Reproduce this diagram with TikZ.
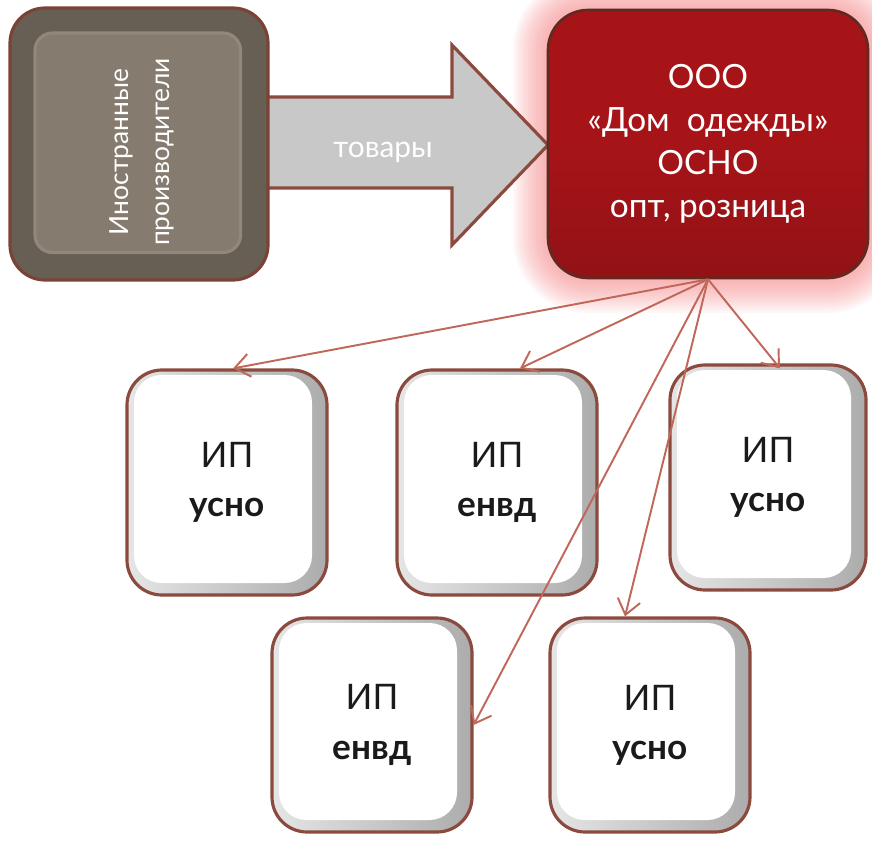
\documentclass[tikz,border=0pt]{standalone}
\usepackage{fontspec}
\setmainfont{Lato}
\usetikzlibrary{arrows.meta}
\definecolor{prodfill}{HTML}{857B6F}
\definecolor{prodedge}{HTML}{675E54}
\definecolor{prodborder}{HTML}{7A4336}
\definecolor{goodsfill}{HTML}{C8C8C8}
\definecolor{goodsborder}{HTML}{8C4A3E}
\definecolor{firmfill}{HTML}{A61418}
\definecolor{firmborder}{HTML}{5E2A22}
\definecolor{firmglow}{HTML}{F47C7C}
\definecolor{ipborder}{HTML}{8A4A3E}
\definecolor{iptext}{HTML}{1A1A1A}
\definecolor{linkcolor}{HTML}{C0675A}

\tikzset{
  ipbox/.style={draw=ipborder, line width=1.8pt, rounded corners=0.7cm,
    left color=gray!20, right color=gray!65, rectangle,
    minimum width=4cm, minimum height=4.5cm, align=center, text=iptext,
    font=\fontsize{20pt}{28pt}\selectfont,
    path picture={\fill[white, rounded corners=0.55cm]
      ([shift={(0.14,-0.1)}]path picture bounding box.north west) rectangle
      ([shift={(-0.3,0.24)}]path picture bounding box.south east);}},
  link/.style={draw=linkcolor, line width=1.1pt,
    -{Straight Barb[length=3mm, width=4.6mm]}},
}

\begin{document}
\begin{tikzpicture}%
\useasboundingbox (0, 0) rectangle (17.44, -16.8);%
% glow round the firm
\foreach \g in {1,...,14} {%
  \fill[firmglow, opacity=0.06, rounded corners=0.8cm+\g*0.5mm] (10.96-\g*0.05, -0.2+\g*0.05) rectangle (17.36+\g*0.05, -5.56-\g*0.05);%
}%
% goods arrow
\draw[fill=goodsfill, draw=goodsborder, line width=1.8pt] (5.24, -1.94) -- (9.04, -1.94) -- (9.04, -0.9) -- (10.96, -2.9) -- (9.04, -4.9) -- (9.04, -3.76) -- (5.24, -3.76) -- cycle;%
\node[text=white, font=\fontsize{17pt}{17pt}\selectfont] (goods) at (7.66, -3.04) {товары};%
% producers
\node[draw=prodborder, line width=1.8pt, fill=prodedge, rectangle, rounded corners=0.7cm, minimum width=5.16cm, minimum height=5.44cm,
  path picture={\fill[prodfill, draw=prodfill!90!white, rounded corners=0.35cm]
    ([shift={(0.5,-0.5)}]path picture bounding box.north west) rectangle
    ([shift={(-0.55,0.55)}]path picture bounding box.south east);}] (prod) at (2.78, -2.88) {};%
\node[text=white, rotate=90, align=center, font=\fontsize{15pt}{23pt}\selectfont] (prodtext) at (2.84, -3.04) {Иностранные\\производители};%
% firm
\node[draw=firmborder, line width=1.5pt, top color=firmfill, bottom color=firmfill!88!black, middle color=firmfill, rectangle, rounded corners=0.8cm, minimum width=6.4cm, minimum height=5.36cm, text=white, align=center, font=\fontsize{19pt}{24.5pt}\selectfont] (firm) at (14.16, -2.88) {ООО\\«Дом~~одежды»\\ОСНО\\опт, розница};%
% entrepreneurs
\node[ipbox] (ip1) at (4.54, -9.65) {ИП\\\textbf{усно}};%
\node[ipbox] (ip2) at (9.94, -9.65) {ИП\\\textbf{енвд}};%
\node[ipbox, minimum width=3.92cm] (ip3) at (15.36, -9.55) {ИП\\\textbf{усно}};%
\node[ipbox, minimum height=4.28cm] (ip4) at (7.44, -14.5) {ИП\\\textbf{енвд}};%
\node[ipbox, minimum height=4.28cm] (ip5) at (13.0, -14.5) {ИП\\\textbf{усно}};%
% links
\draw[link] (firm.south) -- ([xshift=0.12cm]ip1.north);%
\draw[link] (firm.south) -- ([xshift=0.46cm]ip2.north);%
\draw[link] (firm.south) -- ([xshift=0.24cm, yshift=-0.1cm]ip3.north);%
\draw[link] (firm.south) -- (ip4.east);%
\draw[link] (firm.south) -- ([xshift=-0.5cm]ip5.north);%
\end{tikzpicture}
\end{document}
